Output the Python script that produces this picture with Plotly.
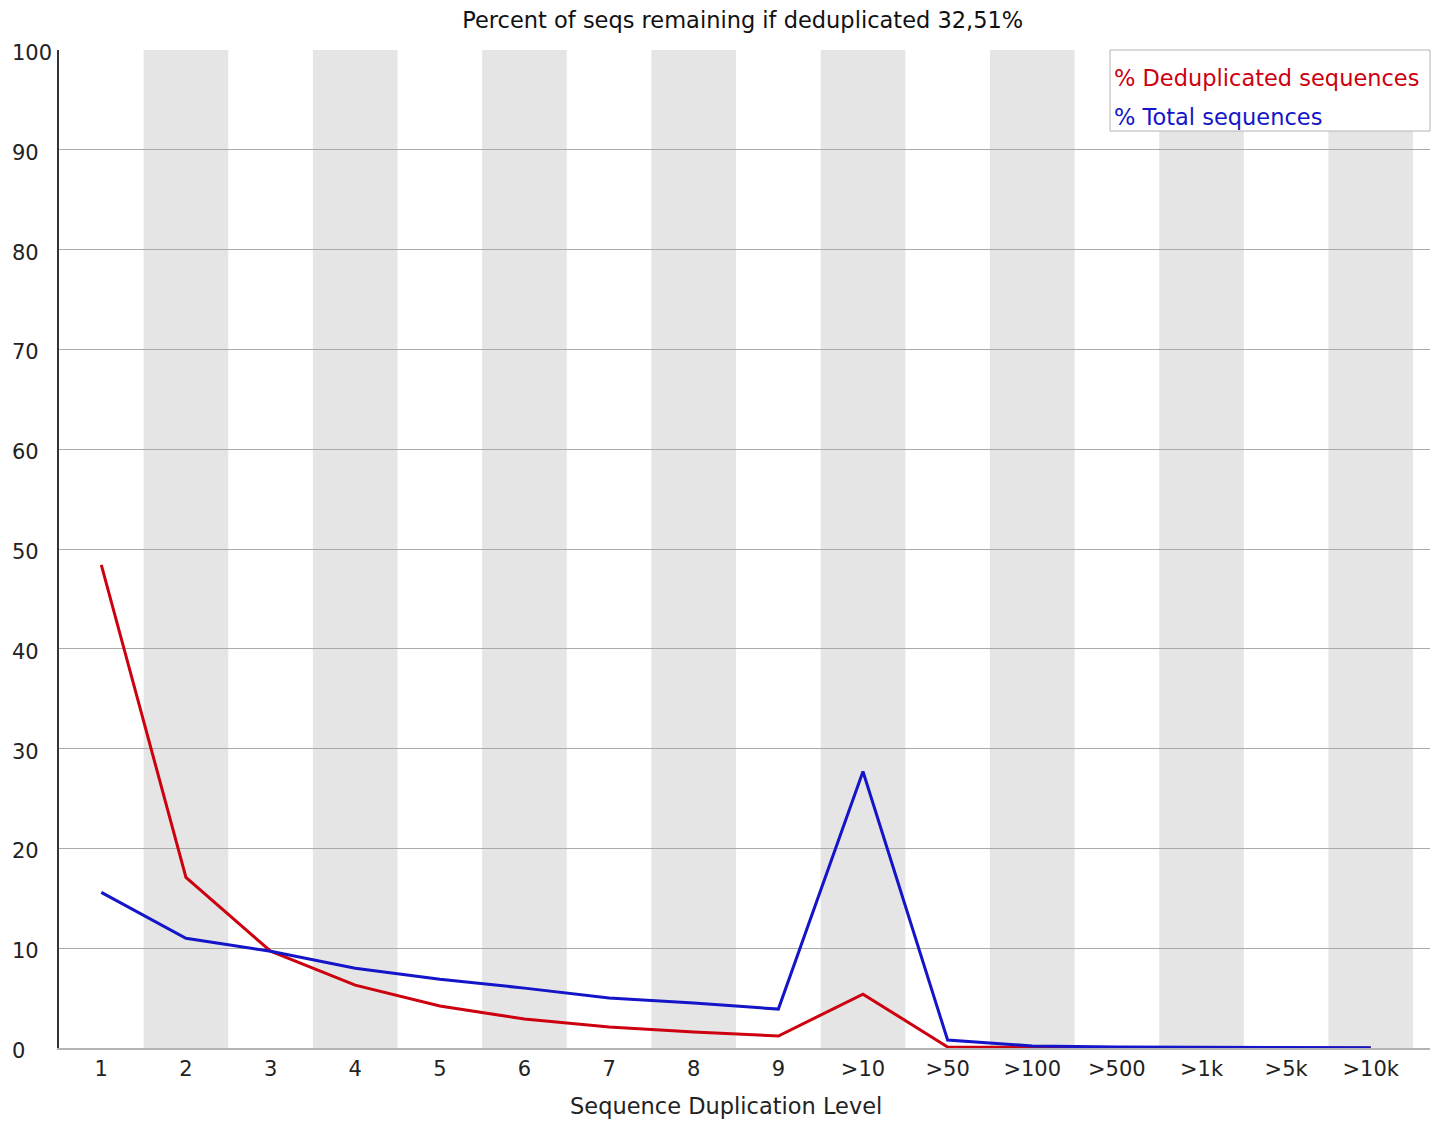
import plotly.graph_objects as go

categories = ["1", "2", "3", "4", "5", "6", "7", "8", "9", ">10", ">50", ">100", ">500", ">1k", ">5k", ">10k"]
dedup_pct = [48.4, 17.1, 9.7, 6.3, 4.2, 2.9, 2.1, 1.6, 1.2, 5.4, 0.1, 0.03, 0.02, 0.01, 0.01, 0.01]
total_pct = [15.6, 11.0, 9.7, 8.0, 6.9, 6.0, 5.0, 4.5, 3.9, 27.7, 0.8, 0.2, 0.1, 0.05, 0.03, 0.02]
y_ticks = [0, 10, 20, 30, 40, 50, 60, 70, 80, 90, 100]
title_text = "Percent of seqs remaining if deduplicated 32,51%"
x_title = "Sequence Duplication Level"
legend_labels = ["% Deduplicated sequences", "% Total sequences"]

RED = "rgb(205,0,15)"
BLUE = "rgb(20,20,200)"
FONT = "DejaVu Sans"

idx = list(range(len(categories)))

fig = go.Figure()
fig.add_trace(go.Scatter(x=idx, y=dedup_pct, mode="lines", line=dict(color=RED, width=3),
                         name=legend_labels[0], showlegend=False))
fig.add_trace(go.Scatter(x=idx, y=total_pct, mode="lines", line=dict(color=BLUE, width=3),
                         name=legend_labels[1], showlegend=False))

shapes = []
for i in idx:
    if i % 2 == 1:
        shapes.append(dict(type="rect", xref="x", yref="y", x0=i - 0.5, x1=i + 0.5, y0=0, y1=100,
                           fillcolor="#e5e5e5", line=dict(width=0), layer="below"))
# legend box
shapes.append(dict(type="rect", xref="paper", yref="paper", x0=0.7666, x1=1.0, y0=0.9188, y1=1.0,
                   fillcolor="white", line=dict(color="#b4b4b4", width=1), layer="above"))

annotations = []
for v in y_ticks:
    annotations.append(dict(x=0, xref="paper", xshift=-49, y=v, yref="y", yshift=-3,
                            text=str(v), showarrow=False, xanchor="left", yanchor="middle",
                            font=dict(family=FONT, size=21, color="#222")))
leg_colors = [RED, BLUE]
leg_y = [0.9719, 0.9329]
for lab, col, yy in zip(legend_labels, leg_colors, leg_y):
    annotations.append(dict(x=0.7666, xref="paper", xshift=2, y=yy, yref="paper", text=lab,
                            showarrow=False, xanchor="left", yanchor="middle",
                            font=dict(family=FONT, size=22.5, color=col)))
annotations.append(dict(x=0.4865, xref="paper", y=-0.0581, yref="paper", text=x_title,
                        showarrow=False, xanchor="center", yanchor="middle",
                        font=dict(family=FONT, size=22.5, color="#222")))

fig.update_layout(
    width=1435, height=1114,
    margin=dict(l=51, r=13, t=42, b=74, autoexpand=False),
    paper_bgcolor="white", plot_bgcolor="white",
    title=dict(text=title_text, x=0.512, xanchor="center", y=1 - 12 / 1114, yanchor="middle",
               yref="container", font=dict(family=FONT, size=22.5, color="#111")),
    shapes=shapes, annotations=annotations,
    showlegend=False,
)
fig.update_xaxes(range=[-0.5, 15.7], tickmode="array", tickvals=idx, ticktext=categories,
                 showgrid=False, zeroline=False, showline=True, linecolor="#b4b4b4", linewidth=1.5,
                 ticks="outside", ticklen=1, tickcolor="white", automargin=False,
                 tickfont=dict(family=FONT, size=21, color="#222"))
fig.update_yaxes(range=[0, 100], tickmode="array", tickvals=y_ticks, showticklabels=False,
                 showgrid=True, gridcolor="#aaaaaa", gridwidth=1, zeroline=False, automargin=False,
                 showline=True, linecolor="#333", linewidth=2)

fig.write_html("out.html")
